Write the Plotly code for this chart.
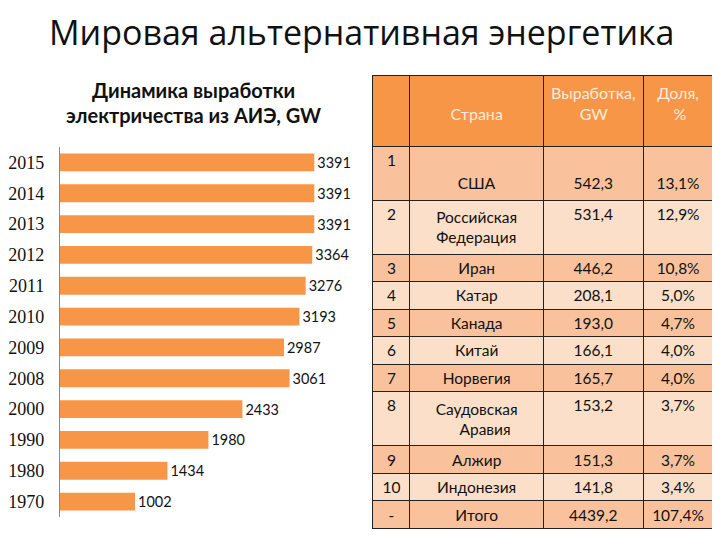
import plotly.graph_objects as go

# ---- Bar chart data ----
years = ["2015", "2014", "2013", "2012", "2011", "2010", "2009", "2008", "2000", "1990", "1980", "1970"]
output_gw = [3391, 3391, 3391, 3364, 3276, 3193, 2987, 3061, 2433, 1980, 1434, 1002]

# ---- Table data ----
ranks = ["1", "2", "3", "4", "5", "6", "7", "8", "9", "10", "-"]
countries = ["США", "Российская<br>Федерация", "Иран", "Катар", "Канада", "Китай", "Норвегия",
             "Саудовская<br>Аравия", "Алжир", "Индонезия", "Итого"]
production = ["542,3", "531,4", "446,2", "208,1", "193,0", "166,1", "165,7", "153,2", "151,3", "141,8", "4439,2"]
share = ["13,1%", "12,9%", "10,8%", "5,0%", "4,7%", "4,0%", "4,0%", "3,7%", "3,7%", "3,4%", "107,4%"]

NB = "\u00a0"
header_labels = ["", NB + "<br>Страна", "Выработка,<br>" + NB * 7 + "GW", "Доля,<br>" + NB * 4 + "%"]

ORANGE = "#F79646"
DARK = "#F9C29D"
LIGHT = "#FCDFC8"

row_colors = [DARK if i % 2 == 0 else LIGHT for i in range(len(ranks))]

countries_disp = [NB + "<br>" + countries[0]] + [
    c.replace("<br>Аравия", "<br>" + NB * 6 + "Аравия") for c in countries[1:]]
production_disp = [NB + "<br>" + production[0]] + production[1:]
share_disp = [NB + "<br>" + share[0]] + share[1:]

# the page body adds an 8px offset; positions below are in reference pixels
W, H, OFF = 712, 532, 8


def px(x):
    return (x - OFF) / W


def py(y):
    return 1 - (y - OFF) / H


fig = go.Figure()

fig.add_trace(go.Bar(
    x=output_gw, y=years, orientation="h",
    marker=dict(color=ORANGE, line=dict(width=0)),
    text=[str(v) for v in output_gw], textposition="outside",
    textfont=dict(family="Lato", size=17, color="#111"),
    cliponaxis=False, width=0.58,
    xaxis="x", yaxis="y",
))

fig.add_trace(go.Table(
    domain=dict(x=[px(372), px(713)], y=[0, py(75)]),
    columnwidth=[37, 134, 100, 70],
    header=dict(
        values=header_labels,
        fill_color=ORANGE,
        line=dict(color="#222", width=1),
        align="center",
        height=71,
        font=dict(family="Lato", size=16, color="#FDEBDD"),
    ),
    cells=dict(
        values=[ranks, countries_disp, production_disp, share_disp],
        fill_color=[row_colors] * 4,
        line=dict(color="#222", width=1),
        align="center",
        height=27.5,
        font=dict(family="Lato", size=15.5, color="#111"),
    ),
))

fig.update_layout(
    width=W, height=H,
    margin=dict(l=0, r=0, t=0, b=0),
    paper_bgcolor="white", plot_bgcolor="white",
    showlegend=False,
    xaxis=dict(domain=[px(58), px(374)], range=[0, 4200], visible=False, fixedrange=True),
    yaxis=dict(domain=[py(517), py(147)], type="category",
               categoryorder="array", categoryarray=years[::-1],
               showline=True, linecolor="#8a8a8a", linewidth=1,
               showgrid=False, ticks="", ticklabelstandoff=11,
               tickfont=dict(family="Liberation Serif", size=18, color="#111")),
    annotations=[
        dict(text="Мировая альтернативная энергетика", x=px(360), y=py(32),
             xref="paper", yref="paper", showarrow=False, xanchor="center", yanchor="middle",
             font=dict(family="Open Sans", size=34, color="#111")),
        dict(text="<b>Динамика выработки</b>", x=px(192), y=py(90),
             xref="paper", yref="paper", showarrow=False, xanchor="center", yanchor="middle",
             font=dict(family="Lato", size=20, color="#111")),
        dict(text="<b>электричества из АИЭ, GW</b>", x=px(192), y=py(115),
             xref="paper", yref="paper", showarrow=False, xanchor="center", yanchor="middle",
             font=dict(family="Lato", size=20, color="#111")),
    ],
)

fig.write_html("out.html")
